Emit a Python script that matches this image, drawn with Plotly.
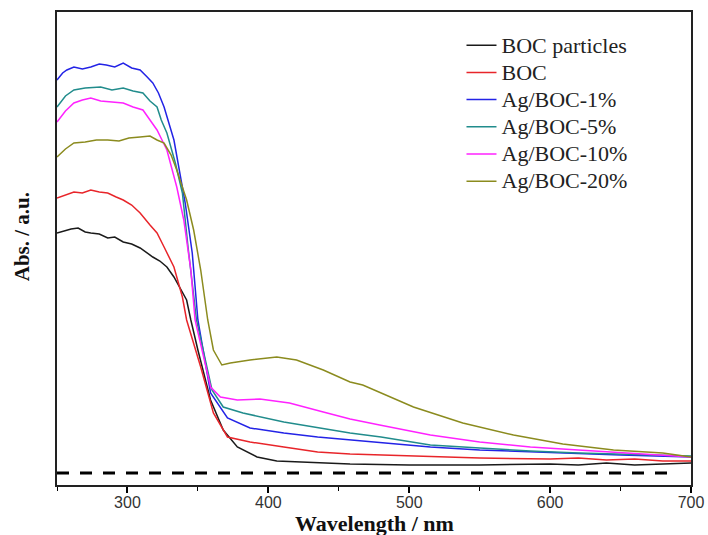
import plotly.graph_objects as go

names = ["BOC particles", "BOC", "Ag/BOC-1%", "Ag/BOC-5%", "Ag/BOC-10%", "Ag/BOC-20%"]
colors = ["#1a1a1a", "#e8252a", "#2323e6", "#218c8c", "#ff22ff", "#8b8b1e"]

wl_black = [250, 255, 260, 265, 270, 274, 280, 286, 291, 297, 303, 309, 313, 318, 323, 328, 333, 338, 342, 345, 350, 359, 368, 378, 392, 406, 435, 458, 500, 550, 600, 620, 640, 660, 680, 700]
abs_black = [2.40, 2.42, 2.44, 2.45, 2.41, 2.40, 2.39, 2.35, 2.36, 2.31, 2.29, 2.25, 2.21, 2.16, 2.12, 2.06, 1.96, 1.83, 1.73, 1.53, 1.23, 0.73, 0.43, 0.26, 0.16, 0.12, 0.10, 0.09, 0.08, 0.08, 0.09, 0.08, 0.10, 0.08, 0.09, 0.10]

wl_red = [250, 256, 262, 268, 274, 280, 286, 292, 297, 303, 309, 316, 321, 326, 333, 339, 342, 352, 361, 371, 387, 411, 435, 458, 500, 550, 600, 620, 640, 660, 680, 700]
abs_red = [2.75, 2.78, 2.81, 2.80, 2.83, 2.81, 2.80, 2.76, 2.73, 2.68, 2.60, 2.48, 2.40, 2.26, 2.06, 1.76, 1.53, 1.06, 0.60, 0.36, 0.31, 0.26, 0.21, 0.19, 0.17, 0.15, 0.14, 0.15, 0.13, 0.14, 0.12, 0.12]

wl_1 = [250, 254, 257, 262, 268, 274, 280, 285, 291, 297, 303, 309, 314, 318, 322, 326, 333, 336, 341, 346, 350, 359, 371, 387, 411, 435, 458, 480, 515, 550, 586, 620, 650, 700]
abs_1 = [3.93, 4.00, 4.03, 4.06, 4.04, 4.06, 4.09, 4.08, 4.06, 4.10, 4.05, 4.03, 3.96, 3.90, 3.80, 3.66, 3.33, 3.10, 2.70, 2.20, 1.53, 0.80, 0.55, 0.45, 0.40, 0.36, 0.33, 0.30, 0.26, 0.23, 0.21, 0.19, 0.18, 0.16]

wl_5 = [250, 256, 262, 270, 281, 289, 297, 304, 311, 316, 321, 324, 328, 334, 339, 343, 349, 360, 368, 382, 411, 435, 458, 480, 515, 550, 586, 620, 650, 700]
abs_5 = [3.66, 3.77, 3.83, 3.85, 3.86, 3.83, 3.85, 3.82, 3.80, 3.72, 3.66, 3.53, 3.40, 3.10, 2.80, 2.26, 1.53, 0.83, 0.66, 0.60, 0.51, 0.45, 0.40, 0.36, 0.28, 0.25, 0.22, 0.20, 0.19, 0.17]

wl_10 = [250, 256, 262, 268, 274, 281, 289, 297, 304, 311, 318, 321, 328, 335, 340, 345, 348, 359, 366, 378, 394, 415, 439, 458, 479, 515, 550, 586, 620, 657, 700]
abs_10 = [3.51, 3.62, 3.70, 3.73, 3.75, 3.72, 3.71, 3.70, 3.66, 3.63, 3.49, 3.43, 3.23, 2.86, 2.53, 2.03, 1.53, 0.86, 0.76, 0.73, 0.74, 0.70, 0.61, 0.54, 0.48, 0.38, 0.31, 0.26, 0.23, 0.20, 0.16]

wl_20 = [250, 256, 262, 270, 278, 286, 294, 301, 309, 316, 321, 326, 331, 335, 342, 347, 352, 357, 361, 367, 373, 387, 406, 420, 439, 458, 467, 503, 538, 574, 609, 645, 680, 700]
abs_20 = [3.16, 3.24, 3.30, 3.31, 3.33, 3.33, 3.32, 3.35, 3.36, 3.37, 3.33, 3.30, 3.18, 3.03, 2.73, 2.43, 2.03, 1.53, 1.23, 1.08, 1.10, 1.13, 1.16, 1.13, 1.03, 0.91, 0.88, 0.66, 0.50, 0.38, 0.29, 0.23, 0.20, 0.16]

baseline_value = 0.0
baseline_start = 250
baseline_end = 689

x_ticks = [300, 400, 500, 600, 700]

series_x = [wl_black, wl_red, wl_1, wl_5, wl_10, wl_20]
series_y = [abs_black, abs_red, abs_1, abs_5, abs_10, abs_20]

serif = "Liberation Serif, Times New Roman, serif"

fig = go.Figure()
for n, c, xs, ys in zip(names, colors, series_x, series_y):
    fig.add_trace(go.Scatter(x=xs, y=ys, mode="lines",
                             name='<span style="font-size:22px">' + n + "</span>",
                             line=dict(color=c, width=1.5)))

fig.add_shape(type="line", xref="x", yref="y",
              x0=baseline_start, x1=baseline_end, y0=baseline_value, y1=baseline_value,
              line=dict(color="black", width=3, dash="12px,11px"))

fig.update_layout(
    width=708, height=535,
    margin=dict(l=57, r=17, t=12, b=50, autoexpand=False),
    paper_bgcolor="white", plot_bgcolor="white",
    showlegend=True,
    legend=dict(x=0.638, y=0.969, xanchor="left", yanchor="top",
                bgcolor="rgba(0,0,0,0)", borderwidth=0,
                font=dict(family=serif, size=18.6, color="#222"),
                tracegroupgap=0, itemwidth=30),
    xaxis=dict(range=[250, 700], tickvals=x_ticks, ticks="outside", ticklen=6, tickwidth=1.5,
               tickcolor="black", showline=True, linecolor="#222", linewidth=1.6, mirror=True,
               showgrid=False, zeroline=False, automargin=False, ticklabelstandoff=-4,
               tickfont=dict(family="Liberation Sans, Arial, sans-serif", size=16, color="#333"),
               minor=dict(dtick=50, tick0=250, ticks="outside", ticklen=4, tickwidth=1.2, tickcolor="black")),
    yaxis=dict(range=[-0.12, 4.61], showticklabels=False, ticks="", showline=True, automargin=False,
               linecolor="#222", linewidth=1.6, mirror=True, showgrid=False, zeroline=False),
)

fig.add_annotation(text="<b>Wavelength / nm</b>", xref="paper", yref="paper",
                   x=0.501, y=-0.082, xanchor="center", yanchor="middle", showarrow=False,
                   font=dict(family=serif, size=22, color="#111"))

fig.add_annotation(text="<b>Abs. / a.u.</b>", xref="paper", yref="paper",
                   x=-0.055, y=0.524, xanchor="center", yanchor="middle",
                   textangle=-90, showarrow=False,
                   font=dict(family=serif, size=21, color="#111"))

fig.write_html("out.html", config={"displayModeBar": False},
               post_script="document.body.style.margin='0';")
